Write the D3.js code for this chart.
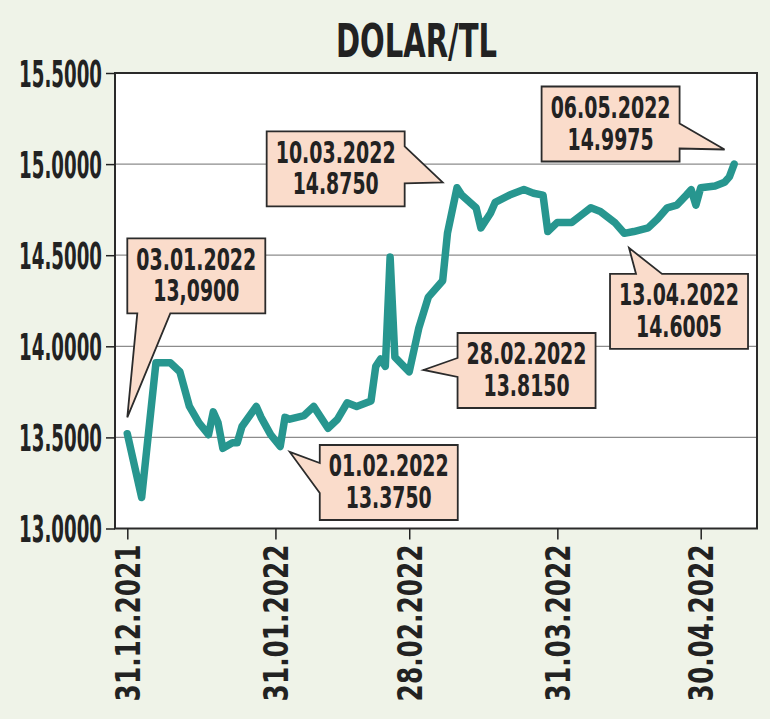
<!DOCTYPE html>
<html>
<head>
<meta charset="utf-8">
<script src="https://cdn.jsdelivr.net/npm/d3@7"></script>
<style>
  body { margin: 0; background: #eff3e8; }
  svg { display: block; }
</style>
</head>
<body>
<script>
// series: daily USD/TRY close
const dates = [
  "2021-12-31","2022-01-03","2022-01-06","2022-01-09","2022-01-11","2022-01-13","2022-01-15",
  "2022-01-17","2022-01-18","2022-01-19","2022-01-20","2022-01-22","2022-01-23","2022-01-24",
  "2022-01-27","2022-01-28","2022-01-30","2022-02-01","2022-02-02","2022-02-03","2022-02-06",
  "2022-02-08","2022-02-11","2022-02-13","2022-02-15","2022-02-17","2022-02-20","2022-02-21",
  "2022-02-22","2022-02-23","2022-02-24","2022-02-25","2022-02-28","2022-03-01","2022-03-02",
  "2022-03-04","2022-03-07","2022-03-08","2022-03-10","2022-03-11","2022-03-14","2022-03-15",
  "2022-03-17","2022-03-18","2022-03-21","2022-03-24","2022-03-26","2022-03-28","2022-03-29",
  "2022-03-31","2022-04-03","2022-04-05","2022-04-07","2022-04-09","2022-04-12","2022-04-14",
  "2022-04-16","2022-04-19","2022-04-21","2022-04-23","2022-04-25","2022-04-27","2022-04-28",
  "2022-04-29","2022-04-30","2022-05-03","2022-05-05","2022-05-06","2022-05-07"
];
const rates = [
  13.52, 13.17, 13.91, 13.91, 13.86, 13.67, 13.58,
  13.515, 13.64, 13.58, 13.44, 13.47, 13.47, 13.56,
  13.67, 13.61, 13.515, 13.45, 13.61, 13.60, 13.62,
  13.67, 13.55, 13.60, 13.69, 13.67, 13.70, 13.89,
  13.93, 13.89, 14.49, 13.94, 13.86, 13.98, 14.10,
  14.27, 14.36, 14.62, 14.87, 14.83, 14.76, 14.65,
  14.73, 14.79, 14.83, 14.86, 14.84, 14.83, 14.63,
  14.68, 14.68, 14.72, 14.76, 14.74, 14.68, 14.62,
  14.63, 14.65, 14.70, 14.76, 14.775, 14.83, 14.86,
  14.775, 14.87, 14.88, 14.90, 14.93, 15.00
];

const yTicks = [13, 13.5, 14, 14.5, 15, 15.5];
const xTickDates = ["2021-12-31","2022-01-31","2022-02-28","2022-03-31","2022-04-30"];

// callouts: label lines and the point the pointer aims at
const calloutDates  = ["03.01.2022","01.02.2022","28.02.2022","10.03.2022","13.04.2022","06.05.2022"];
const calloutValues = ["13,0900","13.3750","13.8150","14.8750","14.6005","14.9975"];
const calloutTipDates = ["2021-12-31","2022-02-03","2022-03-03","2022-03-07","2022-04-15","2022-05-05"];
const calloutTipRates = [13.61, 13.42, 13.87, 14.90, 14.54, 15.08];

const W = 770, H = 719;
const FONT = '"Liberation Sans Narrow","DejaVu Sans Condensed","Liberation Sans",sans-serif';
const INK = "#222";

const parse = d3.utcParse("%Y-%m-%d");
const fmtDate = d3.utcFormat("%d.%m.%Y");

// squeeze a text horizontally to a given width around its anchor x
function fitWidth(sel, width, anchorX, prefix) {
  sel.each(function(d, i) {
    const len = this.getComputedTextLength();
    const s = width / len;
    const ax = typeof anchorX === "function" ? anchorX(d, i) : anchorX;
    this.setAttribute("transform",
      (prefix || "") + ` translate(${ax},0) scale(${s},1) translate(${-ax},0)`);
  });
}

const x = d3.scaleUtc()
  .domain([parse("2021-12-31"), parse("2022-04-30")])
  .range([127.3, 700.7]);
const y = d3.scaleLinear().domain([13, 15.5]).range([528.5, 73]);

const frame = {left: 115, right: 757, top: y(15.5), bottom: y(13)};

const svg = d3.select("body").append("svg")
  .attr("width", W).attr("height", H);

// title
svg.append("text")
  .attr("x", 416.5).attr("y", 57)
  .attr("text-anchor", "middle")
  .attr("font-family", FONT).attr("font-weight", "bold")
  .attr("font-size", 47).attr("fill", INK)
  .text("DOLAR/TL")
  .call(fitWidth, 161, 416.5);

// plot frame
svg.append("rect")
  .attr("x", frame.left).attr("y", frame.top)
  .attr("width", frame.right - frame.left)
  .attr("height", frame.bottom - frame.top)
  .attr("fill", "#fff");

// grid
svg.append("g").selectAll("line")
  .data(yTicks.filter(v => v > 13 && v < 15.5))
  .join("line")
  .attr("x1", frame.left).attr("x2", frame.right)
  .attr("y1", d => y(d)).attr("y2", d => y(d))
  .attr("stroke", "#8c8c8c").attr("stroke-width", 1.3);

svg.append("rect")
  .attr("x", frame.left).attr("y", frame.top)
  .attr("width", frame.right - frame.left)
  .attr("height", frame.bottom - frame.top)
  .attr("fill", "none").attr("stroke", "#2a2a2a").attr("stroke-width", 2);

// y axis
const yAxis = svg.append("g")
  .attr("transform", `translate(${frame.left},0)`)
  .call(d3.axisLeft(y).tickValues(yTicks).tickFormat(d3.format(".4f")).tickSize(9).tickPadding(4));
yAxis.select(".domain").remove();
yAxis.selectAll("line").attr("stroke", INK).attr("stroke-width", 1.5);
yAxis.selectAll("text")
  .attr("font-family", FONT).attr("font-weight", "bold")
  .attr("font-size", 37).attr("fill", INK)
  .attr("dy", "0.36em")
  .call(fitWidth, 83, -13);

// x axis
const xAxis = svg.append("g")
  .attr("transform", `translate(0,${frame.bottom})`)
  .call(d3.axisBottom(x).tickValues(xTickDates.map(parse)).tickFormat(fmtDate).tickSize(11));
xAxis.select(".domain").remove();
xAxis.selectAll("line").attr("stroke", INK).attr("stroke-width", 1.5);
xAxis.selectAll("text")
  .attr("x", -16).attr("y", 0).attr("dy", "0.36em")
  .attr("text-anchor", "end")
  .attr("font-family", FONT).attr("font-weight", "bold")
  .attr("font-size", 34).attr("fill", INK)
  .call(fitWidth, 157, -16, "rotate(-90)");

// the series line
const series = dates.map((d, i) => ({date: parse(d), rate: rates[i]}));
const line = d3.line().x(d => x(d.date)).y(d => y(d.rate));

svg.append("path")
  .datum(series)
  .attr("d", line)
  .attr("fill", "none")
  .attr("stroke", "#27968f")
  .attr("stroke-width", 7.5)
  .attr("stroke-linejoin", "round")
  .attr("stroke-linecap", "round");

// callout boxes; offsets are from the pointer tip to the box's top-left corner
const BOX_W = 138, BOX_H = 75;
const calloutLayout = [
  {dx: 0,    dy: -179, side: "bottom", base: [10, 43]},
  {dx: 30,   dy: -7,   side: "left",   base: [18, 48]},
  {dx: 34,   dy: -37,  side: "left",   base: [25, 44]},
  {dx: -176, dy: -51,  side: "right",  base: [15, 52]},
  {dx: -19,  dy: 26,   side: "top",    base: [26, 52]},
  {dx: -183, dy: -63,  side: "right",  base: [37, 62]}
];

function calloutPath(tx, ty, L, T, lay) {
  const R = L + BOX_W, B = T + BOX_H;
  const [a, b] = lay.base;
  const p = d3.path();
  if (lay.side === "right") {
    p.moveTo(L, T); p.lineTo(R, T); p.lineTo(R, T + a); p.lineTo(tx, ty);
    p.lineTo(R, T + b); p.lineTo(R, B); p.lineTo(L, B);
  } else if (lay.side === "left") {
    p.moveTo(L, T); p.lineTo(R, T); p.lineTo(R, B); p.lineTo(L, B);
    p.lineTo(L, T + b); p.lineTo(tx, ty); p.lineTo(L, T + a);
  } else if (lay.side === "bottom") {
    p.moveTo(L, T); p.lineTo(R, T); p.lineTo(R, B); p.lineTo(L + b, B);
    p.lineTo(tx, ty); p.lineTo(L + a, B); p.lineTo(L, B);
  } else {
    p.moveTo(L, T); p.lineTo(L + a, T); p.lineTo(tx, ty); p.lineTo(L + b, T);
    p.lineTo(R, T); p.lineTo(R, B); p.lineTo(L, B);
  }
  p.closePath();
  return p.toString();
}

const callouts = calloutDates.map((d, i) => ({
  date: d, value: calloutValues[i],
  tx: x(parse(calloutTipDates[i])), ty: y(calloutTipRates[i]),
  lay: calloutLayout[i]
}));
const boxCx = d => d.tx + d.lay.dx + BOX_W / 2;

const cg = svg.append("g").selectAll("g").data(callouts).join("g");

cg.append("path")
  .attr("d", d => calloutPath(d.tx, d.ty, d.tx + d.lay.dx, d.ty + d.lay.dy, d.lay))
  .attr("fill", "#fadccb")
  .attr("stroke", "#2b2b2b").attr("stroke-width", 1.8)
  .attr("stroke-linejoin", "miter");

cg.append("text")
  .attr("x", boxCx)
  .attr("y", d => d.ty + d.lay.dy + 31.5)
  .attr("text-anchor", "middle")
  .attr("font-family", FONT).attr("font-weight", "bold")
  .attr("font-size", 30).attr("fill", INK)
  .text(d => d.date)
  .call(fitWidth, 120, boxCx);

cg.append("text")
  .attr("x", boxCx)
  .attr("y", d => d.ty + d.lay.dy + 63)
  .attr("text-anchor", "middle")
  .attr("font-family", FONT).attr("font-weight", "bold")
  .attr("font-size", 30).attr("fill", INK)
  .text(d => d.value)
  .call(fitWidth, 86, boxCx);
</script>
</body>
</html>
